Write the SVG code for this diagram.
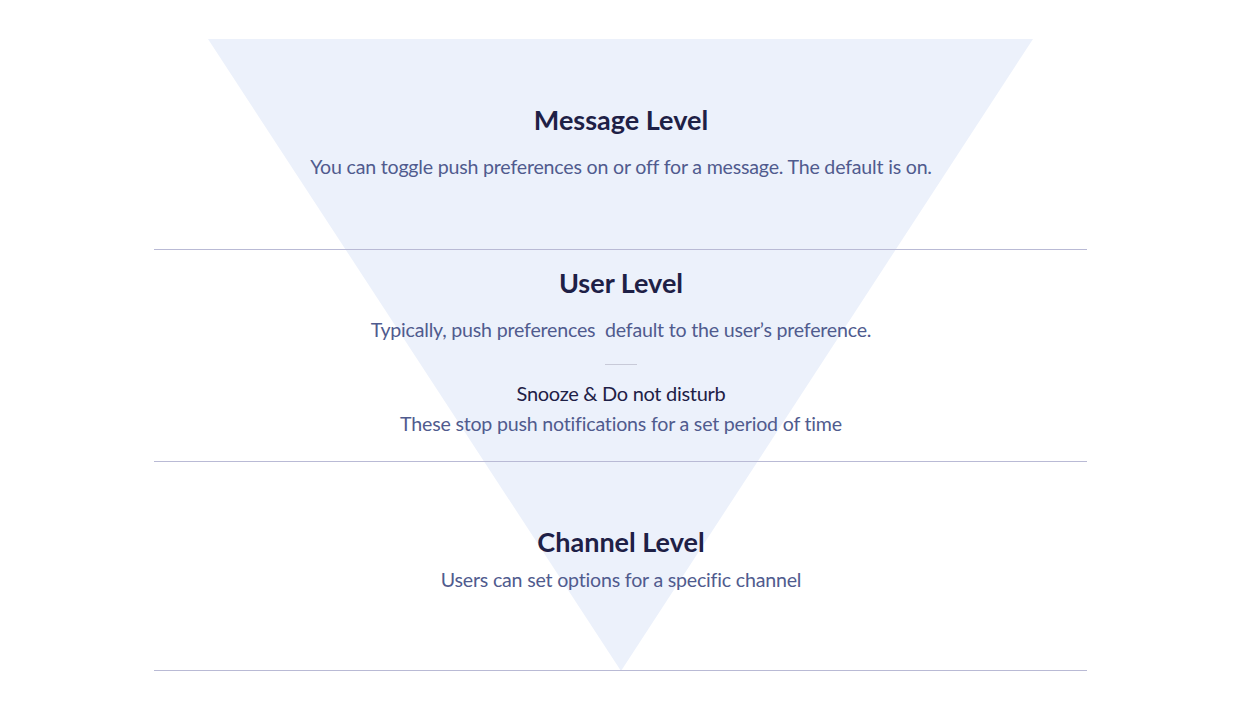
<svg xmlns="http://www.w3.org/2000/svg" width="1241" height="711" viewBox="0 0 1241 711">
<style>
.h{font-family:Lato,"Noto Sans",sans-serif;font-weight:bold;font-size:27px;fill:#1E2046;text-anchor:middle}
.s{font-family:Lato,"Noto Sans",sans-serif;font-size:19.6px;fill:#505B8E;text-anchor:middle;letter-spacing:-0.2px;white-space:pre}
.m{font-family:Lato,"Noto Sans",sans-serif;font-size:20px;fill:#1E2046;text-anchor:middle;letter-spacing:-0.3px}
.l{stroke:#B9BAD5;stroke-width:1}
</style>
<rect width="1241" height="711" fill="#fff"/>
<g id="funnel"><polygon points="208,39 1033,39 621,671" fill="#ECF1FB"/></g>
<g id="connectors">
<line class="l" x1="154" y1="249.5" x2="1087" y2="249.5"/>
<line class="l" x1="154" y1="461.5" x2="1087" y2="461.5"/>
<line class="l" x1="154" y1="670.5" x2="1087" y2="670.5"/>
<line x1="605" y1="364.5" x2="637" y2="364.5" stroke="#C8CAD8"/>
</g>
<g id="message"><text class="h" x="621" y="130">Message Level</text>
<text class="s" x="621" y="174">You can toggle push preferences on or off for a message. The default is on.</text></g>
<g id="user"><text class="h" x="621" y="293">User Level</text>
<text class="s" x="621" y="337" xml:space="preserve">Typically, push preferences  default to the user’s preference.</text>
<text class="m" x="621" y="401">Snooze &amp; Do not disturb</text>
<text class="s" x="621" y="431">These stop push notifications for a set period of time</text></g>
<g id="channel"><text class="h" x="621" y="552">Channel Level</text>
<text class="s" x="621" y="587">Users can set options for a specific channel</text></g>
</svg>
